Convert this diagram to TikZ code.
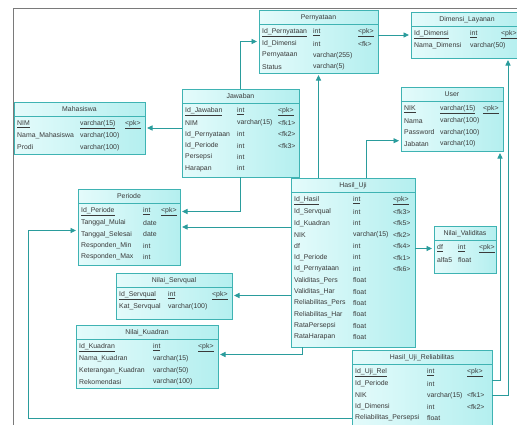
\documentclass[tikz,border=0pt]{standalone}
\usepackage{fontspec}
\setmainfont{Liberation Sans}
\usetikzlibrary{arrows.meta,calc}
\definecolor{frm}{HTML}{7A7A7A}
\definecolor{bdr}{HTML}{3FB3B3}
\definecolor{bodyL}{HTML}{E4FBFB}
\definecolor{bodyR}{HTML}{B4EFEF}
\definecolor{lnk}{HTML}{2A9C9C}
\definecolor{txt}{HTML}{3A3A3A}
\tikzset{
 tbl/.style={draw=bdr, line width=0.7pt, left color=bodyL, right color=bodyR, anchor=north west, inner sep=0pt, outer sep=0pt, rectangle},
 sepline/.style={draw=bdr, line width=0.7pt},
 ttl/.style={font=\fontsize{6.9}{8}\selectfont, text=txt, inner sep=0pt},
 cell/.style={font=\fontsize{6.9}{8}\selectfont, text=txt, inner sep=0pt, anchor=west},
 conn/.style={draw=lnk, line width=0.9pt, -{Triangle[length=5.5pt,width=5pt]}, shorten >=2pt},
 framebox/.style={draw=frm, line width=0.8pt},
}
\newcommand\ertable[9]{%
 \node[tbl, minimum width=#4pt, minimum height=#5pt] (#1) at (#2,#3) {};
 \draw[sepline] ($(#1.north west)+(0,14.5)$) -- ($(#1.north east)+(0,14.5)$);
 \node[ttl] (#1-t) at ($(#1.north)+(0,7.4)$) {#6};
 \foreach \nm/\ty/\ky/\pk [count=\ii] in {#9} {
   \node[cell] (#1-r\ii) at ($(#1.north west)+(3,11.1+11.4*\ii)$) {\ifnum\pk=1 \underline{\nm}\else\nm\fi};
   \node[cell] (#1-y\ii) at ($(#1.north west)+(#7,11.1+11.4*\ii)$) {\ifnum\pk=1 \underline{\ty}\else\ty\fi};
   \node[cell] (#1-k\ii) at ($(#1.north west)+(#8,11.1+11.4*\ii)$) {\ifnum\pk=1 \underline{\ky}\else\ky\fi};
 }
}
\begin{document}
\begin{tikzpicture}[x=1pt,y=-1pt]
\useasboundingbox (0,0) rectangle (517,424);
\fill[white] (0,0) rectangle (517,424);
\draw[framebox] (13,8) rectangle (540,460);

\ertable{pern}{259}{10}{119}{63}{Pernyataan}{54}{99}{Id\_Pernyataan/int/<pk>/1, Id\_Dimensi/int/<fk>/0, Pernyataan/varchar(255)//0, Status/varchar(5)//0}
\ertable{dim}{411}{12}{112}{46}{Dimensi\_Layanan}{59}{90}{Id\_Dimensi/int/<pk>/1, Nama\_Dimensi/varchar(50)//0}
\ertable{mah}{14}{102}{131}{52}{Mahasiswa}{66}{111}{NIM/varchar(15)/<pk>/1, Nama\_Mahasiswa/varchar(100)//0, Prodi/varchar(100)//0}
\ertable{jaw}{182}{89}{117}{88}{Jawaban}{55}{96}{Id\_Jawaban/int/<pk>/1, NIM/varchar(15)/<fk1>/0, Id\_Pernyataan/int/<fk2>/0, Id\_Periode/int/<fk3>/0, Persepsi/int//0, Harapan/int//0}
\ertable{user}{401}{87}{102}{64}{User}{39}{82}{NIK/varchar(15)/<pk>/1, Nama/varchar(100)//0, Password/varchar(100)//0, Jabatan/varchar(10)//0}
\ertable{per}{78}{189}{102}{76}{Periode}{65}{83}{Id\_Periode/int/<pk>/1, Tanggal\_Mulai/date//0, Tanggal\_Selesai/date//0, Responden\_Min/int//0, Responden\_Max/int//0}
\ertable{hu}{291}{178}{124}{169}{Hasil\_Uji}{62}{102}{Id\_Hasil/int/<pk>/1, Id\_Servqual/int/<fk3>/0, Id\_Kuadran/int/<fk5>/0, NIK/varchar(15)/<fk2>/0, df/int/<fk4>/0, Id\_Periode/int/<fk1>/0, Id\_Pernyataan/int/<fk6>/0, Validitas\_Pers/float//0, Validitas\_Har/float//0, Reliabilitas\_Pers/float//0, Reliabilitas\_Har/float//0, RataPersepsi/float//0, RataHarapan/float//0}
\ertable{nv}{434}{226}{62}{47}{Nilai\_Validitas}{24}{45}{df/int/<pk>/1, alfa5/float//0}
\ertable{ns}{116}{273}{116}{46}{Nilai\_Servqual}{52}{96}{Id\_Servqual/int/<pk>/1, Kat\_Servqual/varchar(100)//0}
\ertable{nk}{76}{325}{142}{63}{Nilai\_Kuadran}{77}{122}{Id\_Kuadran/int/<pk>/1, Nama\_Kuadran/varchar(15)//0, Keterangan\_Kuadran/varchar(50)//0, Rekomendasi/varchar(100)//0}
\ertable{hur}{352}{350}{140}{90}{Hasil\_Uji\_Reliabilitas}{75}{115}{Id\_Uji\_Rel/int/<pk>/1, Id\_Periode/int//0, NIK/varchar(15)/<fk1>/0, Id\_Dimensi/int/<fk2>/0, Reliabilitas\_Persepsi/float//0}

\coordinate (huUserOut) at ($(hu.north west)+(75,0)$);
\coordinate (huKuadOut) at ($(hu.south west)+(11,0)$);
\coordinate (hurUserOut) at ($(hur.north east)+(0,30)$);

\draw[conn] (jaw.north) |- (pern.west);
\draw[conn] (pern.east |- dim.west) -- (dim.west);
\draw[conn] (hu.north -| pern.south) -- (pern.south);
\draw[conn] (jaw.west |- mah.east) -- (mah.east);
\draw[conn] (jaw.south) |- (per.east |- per-r1);
\draw[conn] (hu.west |- per.east) -- (per.east);
\draw[conn] (huUserOut) |- ($(user.west |- user-r4)+(0,-3)$);
\draw[conn] (hu.east |- nv-r1) -- (nv.west |- nv-r1);
\draw[conn] (hu.west |- ns-r1) -- (ns.east |- ns-r1);
\draw[conn] (huKuadOut) |- ($(nk.east)+(0,-2)$);
\draw[conn] (hurUserOut) -| ($(user.south east)+(-3,0)$);
\draw[conn] (hur.east |- hur-r3) -| ($(dim.south west)+(97,0)$);
\draw[conn] (hur.west |- hur-r5) -- ++(-324,0) |- ($(per.west)+(0,3.5)$);
\end{tikzpicture}
\end{document}
